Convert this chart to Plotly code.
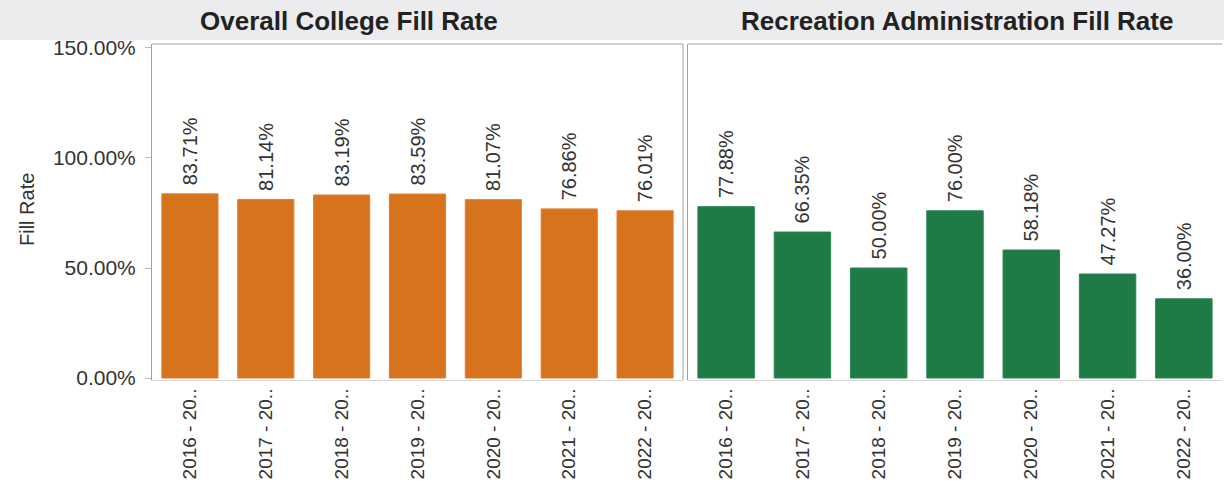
import plotly.graph_objects as go

categories = ["2016 - 20..", "2017 - 20..", "2018 - 20..", "2019 - 20..", "2020 - 20..", "2021 - 20..", "2022 - 20.."]
college_rate = [0.8371, 0.8114, 0.8319, 0.8359, 0.8107, 0.7686, 0.7601]
recreation_rate = [0.7788, 0.6635, 0.5000, 0.7600, 0.5818, 0.4727, 0.3600]
titles = ["Overall College Fill Rate", "Recreation Administration Fill Rate"]
y_ticks = [0, 0.5, 1.0, 1.5]

W, H = 1224, 488
L, R, T, B = 152, 2, 44, 108
pw = W - L - R
ph = H - T - B

def fx(px):
    return (px - L) / pw

def fy(py):
    return (H - B - py) / ph

font = "Liberation Sans, Arial, sans-serif"
tc = "#333333"

def labels(vals):
    return ["\u00a0" + f"{v*100:.2f}%" for v in vals]

fig = go.Figure()
fig.add_trace(go.Bar(
    x=categories, y=college_rate, marker=dict(color="#D8731D", line=dict(width=1, color="#DD7F30")),
    text=labels(college_rate), textposition="outside", textangle=-90, constraintext="none",
    textfont=dict(size=20, color=tc, family=font), cliponaxis=False,
    xaxis="x", yaxis="y", width=0.74, showlegend=False))
fig.add_trace(go.Bar(
    x=categories, y=recreation_rate, marker=dict(color="#1E7B46", line=dict(width=1, color="#2A8552")),
    text=labels(recreation_rate), textposition="outside", textangle=-90, constraintext="none",
    textfont=dict(size=20, color=tc, family=font), cliponaxis=False,
    xaxis="x2", yaxis="y2", width=0.74, showlegend=False))

yr = [-0.009, 1.518]
xaxis_common = dict(tickangle=-90, tickfont=dict(size=19, color=tc, family=font),
                    showline=True, linecolor="#D8D8D8", linewidth=1, showgrid=False,
                    ticks="", automargin=False, fixedrange=True)
fig.update_layout(
    width=W, height=H, margin=dict(l=L, r=R, t=T, b=B, autoexpand=False),
    plot_bgcolor="white", paper_bgcolor="white",
    xaxis=dict(domain=[0, fx(683)], anchor="y", **xaxis_common),
    xaxis2=dict(domain=[fx(688), 1], anchor="y2", **xaxis_common),
    yaxis=dict(range=yr, tickvals=y_ticks, tickformat=".2%", showgrid=False, zeroline=False,
               tickfont=dict(size=21, color=tc, family=font), automargin=False,
               ticks="outside", ticklen=6, tickcolor="#BBBBBB", ticklabelstandoff=5,
               showline=True, linecolor="#A0A0A0", anchor="x", fixedrange=True),
    yaxis2=dict(range=yr, showticklabels=False, showgrid=False, zeroline=False, automargin=False,
                showline=True, linecolor="#A0A0A0", anchor="x2", fixedrange=True),
    shapes=[
        dict(type="rect", xref="paper", yref="paper", x0=fx(0), x1=fx(W), y0=fy(40), y1=fy(0),
             fillcolor="#ECECEF", line=dict(width=0), layer="below"),
        dict(type="line", xref="paper", yref="paper", x0=0, x1=fx(683), y0=1, y1=1, line=dict(color="#A0A0A0", width=1)),
        dict(type="line", xref="paper", yref="paper", x0=fx(683), x1=fx(683), y0=0, y1=1, line=dict(color="#A0A0A0", width=1)),
        dict(type="line", xref="paper", yref="paper", x0=fx(688), x1=1, y0=1, y1=1, line=dict(color="#A0A0A0", width=1)),
    ],
    annotations=[
        dict(text=f"<b>{titles[0]}</b>", xref="paper", yref="paper", x=fx(349), y=fy(21),
             xanchor="center", yanchor="middle",
             showarrow=False, font=dict(size=26, color="#222222", family=font)),
        dict(text=f"<b>{titles[1]}</b>", xref="paper", yref="paper", x=fx(957), y=fy(21),
             xanchor="center", yanchor="middle",
             showarrow=False, font=dict(size=26, color="#222222", family=font)),
        dict(text="Fill Rate", xref="paper", yref="paper", x=fx(27), y=fy(210), textangle=-90,
             xanchor="center", yanchor="middle",
             showarrow=False, font=dict(size=20, color=tc, family=font)),
    ],
)
fig.write_html("out.html", config={"displayModeBar": False},
               post_script="document.body.style.margin='0';document.body.style.padding='0';")
